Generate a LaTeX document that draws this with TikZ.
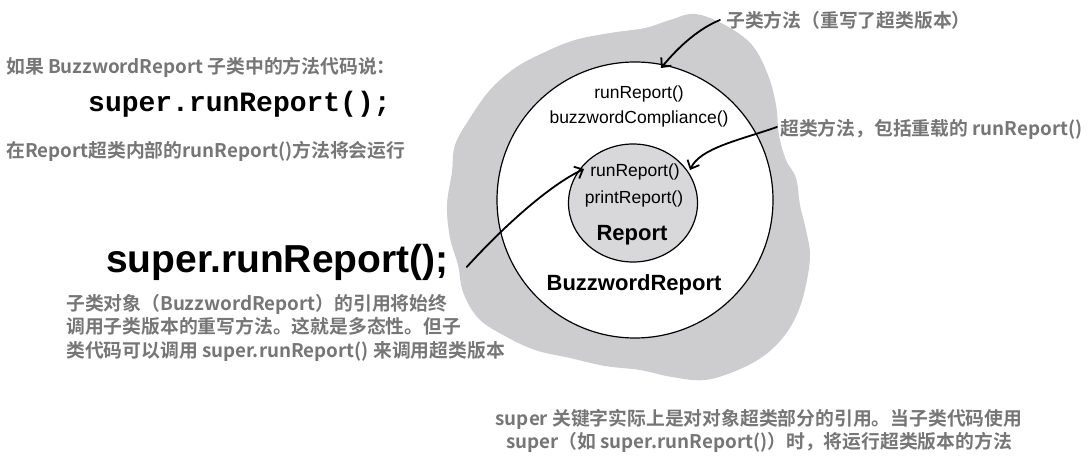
\documentclass[tikz,border=0pt]{standalone}
\usepackage{fontspec}
\setmainfont{Liberation Sans}
\setmonofont{Liberation Mono}
\newfontfamily\cjk{Noto Sans CJK SC}[BoldFont={Noto Sans CJK SC Bold}]
\usetikzlibrary{arrows.meta,shapes.geometric}
\definecolor{notegray}{RGB}{118,118,118}
\definecolor{blobgray}{RGB}{205,205,207}
\definecolor{coregray}{RGB}{216,216,218}
\begin{document}
\begin{tikzpicture}[x=1pt, y=-1pt, every node/.style={inner sep=0pt},
  note/.style={font=\cjk\bfseries\fontsize{18.8}{23.5}\selectfont, text=notegray, align=left},
  meth/.style={font=\fontsize{17.5}{20}\selectfont},
  cls/.style={font=\bfseries\fontsize{22}{24}\selectfont},
  arr/.style={-{Straight Barb[length=7pt,width=13pt]}, line width=1.8pt, line cap=round}]
\useasboundingbox (0,0) rectangle (1088,470);
\fill[blobgray] plot[smooth cycle, tension=0.6] coordinates {(695,14) (725,25) (752,45) (768,75) (776,105) (779,135) (786,160) (796,178) (800,205) (806,230) (810,255) (806,285) (798,312) (785,335) (765,355) (738,370) (705,380) (672,377) (640,370) (605,366) (570,358) (535,350) (503,335) (478,318) (463,292) (458,265) (450,238) (447,205) (452,172) (455,145) (470,118) (490,90) (515,68) (545,52) (575,40) (610,33) (645,28) (670,20)};
\node[draw, circle, line width=1.2pt, fill=white, minimum size=276pt] (buzz) at (635,200) {};
\node[draw, ellipse, line width=1.2pt, fill=coregray, minimum width=129pt, minimum height=118pt] (rep) at (633,203) {};
\node[meth] (subrun) at (639,94) {runReport()};
\node[meth] (comply) at (639,119) {buzzwordCompliance()};
\node[meth] (suprun) at (635,172) {runReport()};
\node[meth] (print) at (634,199) {printReport()};
\node[cls] (repname) at (632,235) {Report};
\node[cls] (buzzname) at (634,285) {BuzzwordReport};
\node[note, anchor=west] (ifsays) at (6,67) {如果 BuzzwordReport 子类中的方法代码说：};
\node[font=\ttfamily\bfseries\fontsize{28}{30}\selectfont, anchor=west] (codecall) at (88,104) {super.runReport();};
\node[note, anchor=west] (willrun) at (6,151) {在Report超类内部的runReport()方法将会运行};
\node[font=\bfseries\fontsize{39}{41}\selectfont, anchor=west] (bigcall) at (106,262) {super.runReport();};
\node[note, anchor=north west] (poly) at (66,294) {子类对象（BuzzwordReport）的引用将始终\\调用子类版本的重写方法。这就是多态性。但子\\类代码可以调用 super.runReport() 来调用超类版本};
\node[note, align=center] (keyword) at (759,431) {super 关键字实际上是对对象超类部分的引用。当子类代码使用\\super（如 super.runReport()）时，将运行超类版本的方法};
\node[note, anchor=west] (lblsub) at (726,20) {子类方法（重写了超类版本）};
\node[note, anchor=west] (lblsup) at (780,129) {超类方法，包括重载的 runReport()};
\draw[arr] ([xshift=-6pt]lblsub.west) .. controls (700,28) and (680,45) .. (661,68);
\draw[arr] ([xshift=-3pt,yshift=2pt]lblsup.west) .. controls (740,140) and (700,148) .. (690,170);
\draw[arr] ([xshift=18pt,yshift=-5pt]bigcall.east) .. controls (505,225) and (550,185) .. (584,169);
\end{tikzpicture}
\end{document}
